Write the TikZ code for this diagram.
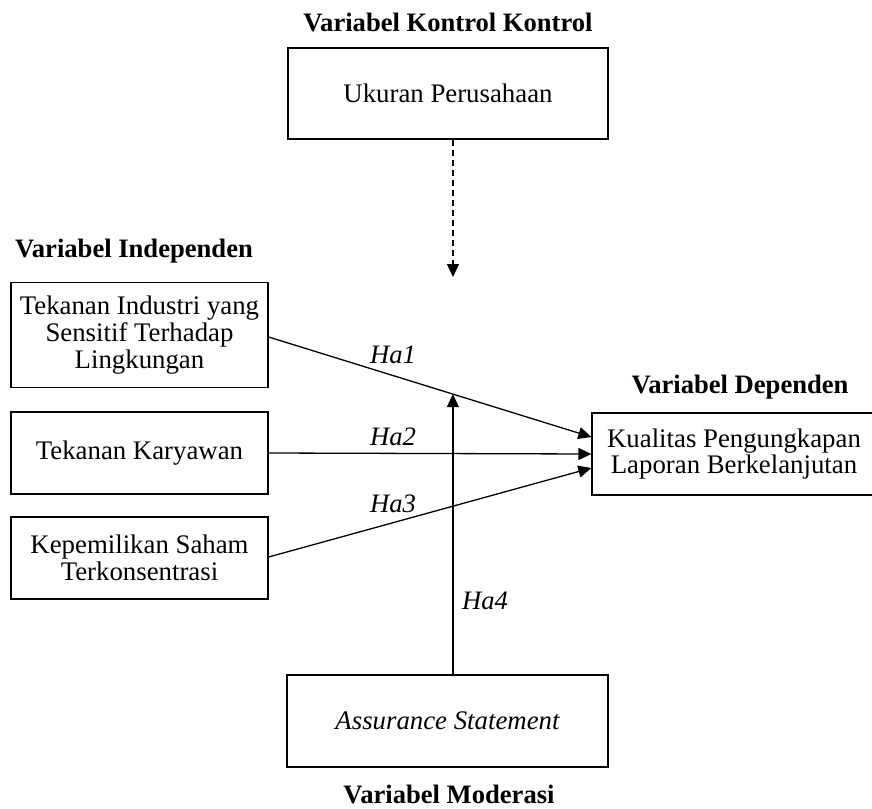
\documentclass[tikz,border=0pt]{standalone}
\usepackage{fontspec}
\setmainfont{Liberation Serif}
\usetikzlibrary{arrows.meta,calc}
\begin{document}
\begin{tikzpicture}[x=0.5pt,y=-0.5pt,
  box/.style={draw,line width=0.65pt,align=center,inner sep=0pt,font=\fontsize{13.4}{13.3}\selectfont},
  ttl/.style={font=\fontsize{13.3}{14}\selectfont\bfseries,inner sep=0pt,anchor=base},
  hlab/.style={font=\fontsize{13.3}{14}\selectfont\itshape,inner sep=0pt,anchor=base},
  arr/.style={line width=0.65pt,-{Triangle[length=6.5pt,width=6pt]}}]
\useasboundingbox (0,0) rectangle (872,808);
\clip (0,0) rectangle (872,808);
\fill[white] (0,0) rectangle (872,808);
% titles
\node[ttl] (t1) at (448,32) {Variabel Kontrol Kontrol};
\node[ttl] (t2) at (134,257) {Variabel Independen};
\node[ttl] (t3) at (740,393) {Variabel Dependen};
\node[ttl] (t4) at (449,803) {Variabel Moderasi};
% boxes
\node[box,minimum width=160pt,minimum height=45.5pt] (uk) at (448,93.5) {Ukuran Perusahaan};
\node[box,minimum width=128.5pt,minimum height=52.5pt] (b1) at (139.5,335) {Tekanan Industri yang\\Sensitif Terhadap\\Lingkungan};
\node[box,minimum width=128.5pt,minimum height=41pt] (b2) at (139.5,453) {Tekanan Karyawan};
\node[box,minimum width=128.5pt,minimum height=41pt] (b3) at (139.5,558) {Kepemilikan Saham\\Terkonsentrasi};
\node[box,minimum width=142pt,minimum height=41pt] (kq) at (734,454) {Kualitas Pengungkapan\\Laporan Berkelanjutan};
\node[box,minimum width=160.5pt,minimum height=46pt,font=\fontsize{13.4}{13.3}\selectfont\itshape] (as) at (447.5,721) {Assurance Statement};
% coordinates
\coordinate (a1) at ($(b1.east)+(0,2)$);
\coordinate (e1) at ($(kq.west)+(0,-17)$);
\coordinate (a3) at ($(b3.east)+(0,-1)$);
\coordinate (e3) at ($(kq.west)+(0,14)$);
\coordinate (dtip) at (453,277);
% arrows
\draw[arr] (a1) -- coordinate[pos=0.571] (m) (e1);
\draw[arr] (b2.east) -- (kq.west);
\draw[arr] (a3) -- (e3);
\draw[arr] (as.north -| m) -- (m);
\draw[arr,dashed,dash pattern=on 3pt off 2pt] (uk.south -| dtip) -- (dtip);
% labels
\node[hlab] (h1) at (393,363) {Ha1};
\node[hlab] (h2) at (393,445) {Ha2};
\node[hlab] (h3) at (393,512) {Ha3};
\node[hlab] (h4) at (485,609) {Ha4};
\end{tikzpicture}
\end{document}
